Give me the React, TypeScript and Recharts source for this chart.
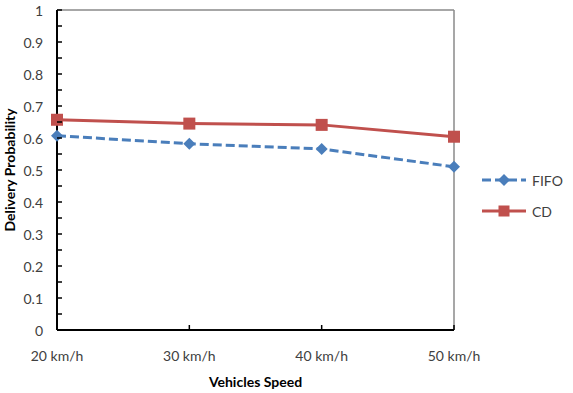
import { Line, LineChart, ReferenceLine, XAxis, YAxis } from "recharts";

// Delivery probability by vehicle speed, FIFO vs CD
const speeds = ["20 km/h", "30 km/h", "40 km/h", "50 km/h"];
const fifo = [0.607, 0.582, 0.566, 0.51];
const cd = [0.657, 0.645, 0.641, 0.604];
const yTicks = [0, 0.05, 0.1, 0.15, 0.2, 0.25, 0.3, 0.35, 0.4, 0.45, 0.5, 0.55, 0.6, 0.65, 0.7, 0.75, 0.8, 0.85, 0.9, 0.95, 1];
const yLabels = ["0", "", "0.1", "", "0.2", "", "0.3", "", "0.4", "", "0.5", "", "0.6", "", "0.7", "", "0.8", "", "0.9", "", "1"];

const data = speeds.map((speed, i) => ({ speed, FIFO: fifo[i], CD: cd[i] }));

const FONT = "Lato, 'Open Sans', sans-serif";
const BLUE = "#4a7ebb";
const RED = "#c0504d";
const TEXT = "#404040";

const Diamond = ({ cx, cy, half = 6 }: any) => (
  <path d={`M${cx},${cy - half} L${cx + half},${cy} L${cx},${cy + half} L${cx - half},${cy} Z`} fill={BLUE} />
);

const Square = ({ cx, cy, side = 12 }: any) => (
  <rect x={cx - side / 2} y={cy - side / 2} width={side} height={side} fill={RED} />
);

// y ticks: every 0.05 a short inward mark, a label every 0.1
const YTick = ({ x, y, index }: any) => (
  <g>
    <line x1={x} x2={x + 5} y1={y} y2={y} stroke="#000" strokeWidth={1.5} />
    <text x={x - 14} y={y} textAnchor="end" dominantBaseline="central" fontSize={14} fill={TEXT} fontFamily={FONT}>
      {yLabels[index]}
    </text>
  </g>
);

const XTick = ({ x, y, payload, index }: any) => (
  <g>
    {index > 0 && <line x1={x} x2={x} y1={y} y2={y - 5} stroke="#000" strokeWidth={1.5} />}
    <text x={x} y={y + 25} textAnchor="middle" dominantBaseline="central" fontSize={14} fill={TEXT} fontFamily={FONT}>
      {payload.value}
    </text>
  </g>
);

const YTitle = ({ viewBox }: any) => {
  const cy = viewBox ? viewBox.y + viewBox.height / 2 : 170;
  return (
    <text
      transform={`translate(9, ${cy}) rotate(-90)`}
      textAnchor="middle"
      dominantBaseline="central"
      fontSize={14}
      fontWeight="bold"
      fill="#000"
      fontFamily={FONT}
    >
      Delivery Probability
    </text>
  );
};

const legendItems = [
  { name: "FIFO", color: BLUE, dash: "9 4", marker: <Diamond cx={22} cy={10} /> },
  { name: "CD", color: RED, dash: undefined, marker: <Square cx={22} cy={10} side={11} /> },
];

const LegendBox = () => (
  <div style={{ position: "absolute", left: 482, top: 170, fontFamily: FONT, fontSize: 14, color: TEXT }}>
    {legendItems.map((item) => (
      <div key={item.name} style={{ display: "flex", alignItems: "center", height: 20, marginBottom: 11 }}>
        <svg width={46} height={20}>
          <line x1={0} x2={44} y1={10} y2={10} stroke={item.color} strokeWidth={3} strokeDasharray={item.dash} />
          {item.marker}
        </svg>
        <span style={{ marginLeft: 4 }}>{item.name}</span>
      </div>
    ))}
  </div>
);

export default function App() {
  return (
    <div style={{ position: "fixed", left: 0, top: 0, width: 573, height: 393, background: "#fff" }}>
      <LineChart width={573} height={393} data={data} margin={{ top: 10, right: 119, bottom: 0, left: 0 }}>
        <XAxis
          dataKey="speed"
          height={63}
          tickSize={0}
          tickMargin={0}
          tickLine={false}
          tick={<XTick />}
          axisLine={{ stroke: "#000", strokeWidth: 2 }}
          label={{ value: "Vehicles Speed", position: "insideBottom", offset: 6, fontSize: 14, fontWeight: "bold", fill: "#000", fontFamily: FONT }}
        />
        <YAxis
          width={57}
          domain={[0, 1]}
          ticks={yTicks}
          interval={0}
          tickSize={0}
          tickMargin={0}
          tickLine={false}
          tick={<YTick />}
          axisLine={{ stroke: "#000", strokeWidth: 2 }}
          label={{ content: <YTitle /> }}
        />
        <ReferenceLine y={1} stroke="#8a8a8a" strokeWidth={1.5} />
        <ReferenceLine x="50 km/h" stroke="#8a8a8a" strokeWidth={1.5} />
        <Line
          dataKey="FIFO"
          stroke={BLUE}
          strokeWidth={3}
          strokeDasharray="9 4"
          dot={<Diamond />}
          isAnimationActive={false}
        />
        <Line dataKey="CD" stroke={RED} strokeWidth={3} dot={<Square />} isAnimationActive={false} />
      </LineChart>
      <LegendBox />
    </div>
  );
}
